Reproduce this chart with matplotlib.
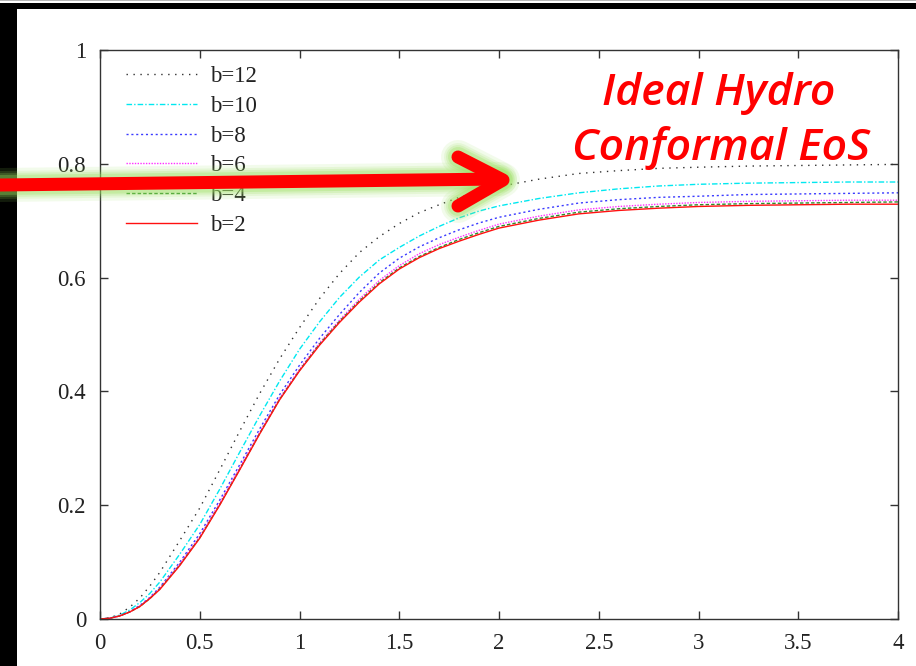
import matplotlib
matplotlib.use("Agg")
import matplotlib.pyplot as plt
from matplotlib.patches import Rectangle

# sampled points of each curve (same x grid for all)
x = [0.0, 0.05, 0.1, 0.15, 0.2, 0.25, 0.3, 0.4, 0.5, 0.6, 0.7, 0.8, 0.9, 1.0,
     1.1, 1.2, 1.3, 1.4, 1.5, 1.6, 1.7, 1.8, 1.9, 2.0, 2.2, 2.4, 2.6, 2.8, 3.0,
     3.25, 3.5, 3.75, 4.0]

b12 = [0.0, 0.002, 0.009, 0.021, 0.037, 0.058, 0.082, 0.138, 0.195, 0.262, 0.330,
       0.396, 0.457, 0.512, 0.563, 0.607, 0.644, 0.672, 0.695, 0.714, 0.728, 0.741,
       0.752, 0.760, 0.773, 0.783, 0.788, 0.792, 0.794, 0.796, 0.797, 0.798, 0.799]
b10 = [0.0, 0.0015, 0.007, 0.016, 0.029, 0.045, 0.065, 0.114, 0.166, 0.228, 0.293,
       0.357, 0.418, 0.474, 0.522, 0.565, 0.601, 0.631, 0.653, 0.673, 0.690, 0.705,
       0.717, 0.726, 0.739, 0.749, 0.756, 0.761, 0.764, 0.766, 0.767, 0.768, 0.768]
b8 = [0.0, 0.0014, 0.006, 0.013, 0.024, 0.038, 0.056, 0.100, 0.150, 0.209, 0.271,
      0.334, 0.394, 0.446, 0.493, 0.535, 0.574, 0.608, 0.634, 0.654, 0.670, 0.684,
      0.696, 0.706, 0.720, 0.731, 0.737, 0.741, 0.743, 0.746, 0.747, 0.748, 0.749]
b6 = [0.0, 0.0014, 0.0055, 0.0125, 0.023, 0.037, 0.054, 0.097, 0.145, 0.204, 0.266,
      0.328, 0.388, 0.439, 0.485, 0.525, 0.562, 0.595, 0.621, 0.642, 0.658, 0.671,
      0.683, 0.694, 0.708, 0.719, 0.725, 0.729, 0.732, 0.734, 0.735, 0.736, 0.736]
b4 = [0.0, 0.0014, 0.0055, 0.0125, 0.022, 0.036, 0.053, 0.095, 0.143, 0.201, 0.263,
      0.326, 0.386, 0.437, 0.483, 0.523, 0.559, 0.591, 0.617, 0.637, 0.653, 0.667,
      0.679, 0.690, 0.704, 0.715, 0.721, 0.725, 0.728, 0.730, 0.731, 0.732, 0.733]
b2 = [0.0, 0.0014, 0.0055, 0.0125, 0.022, 0.036, 0.052, 0.094, 0.142, 0.200, 0.262,
      0.325, 0.385, 0.436, 0.481, 0.521, 0.557, 0.589, 0.615, 0.635, 0.651, 0.664,
      0.676, 0.687, 0.701, 0.712, 0.718, 0.722, 0.725, 0.727, 0.728, 0.729, 0.729]

labels = ["b=12", "b=10", "b=8", "b=6", "b=4", "b=2"]
series = [b12, b10, b8, b6, b4, b2]
colors = ["#303030", "#00e8f0", "#3a3aff", "#ff30ff", "#2e8a2e", "#ff1010"]
styles = [(0, (1, 4)), (0, (4, 1.5, 1, 1.5)), (0, (1.5, 2)), (0, (1, 1)),
          (0, (2.5, 1.5)), "-"]

W, H = 916, 666
fig = plt.figure(figsize=(W / 100, H / 100), dpi=100)
serif = ["Liberation Serif", "DejaVu Serif"]

ax = fig.add_axes([100 / W, 1 - 619 / H, 798 / W, 569 / H])
for ys, lab, c, ls in zip(series, labels, colors, styles):
    ax.plot(x, ys, color=c, linestyle=ls, linewidth=1.0, label=lab)

ax.set_xlim(0, 4)
ax.set_ylim(0, 1)
ax.set_xticks([0, 0.5, 1, 1.5, 2, 2.5, 3, 3.5, 4])
ax.set_xticklabels(["0", "0.5", "1", "1.5", "2", "2.5", "3", "3.5", "4"])
ax.set_yticks([0, 0.2, 0.4, 0.6, 0.8, 1])
ax.set_yticklabels(["0", "0.2", "0.4", "0.6", "0.8", "1"])
ax.tick_params(direction="in", length=6, width=1, top=True, right=True,
               labelsize=16.5, pad=10, colors="#333333")
for lbl in ax.get_xticklabels() + ax.get_yticklabels():
    lbl.set_family(serif)
    lbl.set_color("#222222")
for sp in ax.spines.values():
    sp.set_color("#333333")
    sp.set_linewidth(1.0)

leg = ax.legend(loc="upper left", frameon=False, handlelength=3.1,
                handletextpad=0.55, labelspacing=0.38, borderaxespad=0.3,
                bbox_to_anchor=(0.013, 1.0), prop={"family": serif, "size": 16.5})
for t in leg.get_texts():
    t.set_color("#222222")

# overlay in pixel units for the frame, arrow and caption
ov = fig.add_axes([0, 0, 1, 1], zorder=5)
ov.set_xlim(0, W)
ov.set_ylim(H, 0)
ov.axis("off")
ov.patch.set_alpha(0)

ov.add_patch(Rectangle((0, 3), W, 6, color="black", lw=0))
ov.add_patch(Rectangle((0, 3), 17, H, color="black", lw=0))
ov.add_patch(Rectangle((0, 0), W, 1, color="#b8b8b8", lw=0))

shaft_x, shaft_y = [0, 500], [185, 179]
head_x, head_y = [458, 503, 458], [157, 180, 206]

# soft green glow under the arrow
for lw, a in [(34, 0.12), (28, 0.15), (24, 0.2), (20, 0.3)]:
    for px, py in [(shaft_x, shaft_y), (head_x, head_y)]:
        ov.plot(px, py, color="#9be060", lw=lw * 0.72, alpha=a,
                solid_capstyle="round", solid_joinstyle="round")
for px, py in [(shaft_x, shaft_y), (head_x, head_y)]:
    ov.plot(px, py, color="#ff0000", lw=13 * 0.72,
            solid_capstyle="round", solid_joinstyle="round")

cap = dict(color="#ff0000", family=["Open Sans", "DejaVu Sans"], style="italic",
           fontweight="semibold", fontsize=32, ha="center")
ov.text(719, 105, "Ideal Hydro", va="baseline", **cap)
ov.text(721, 160, "Conformal EoS", va="baseline", **cap)

fig.savefig("out.png", dpi=100)
